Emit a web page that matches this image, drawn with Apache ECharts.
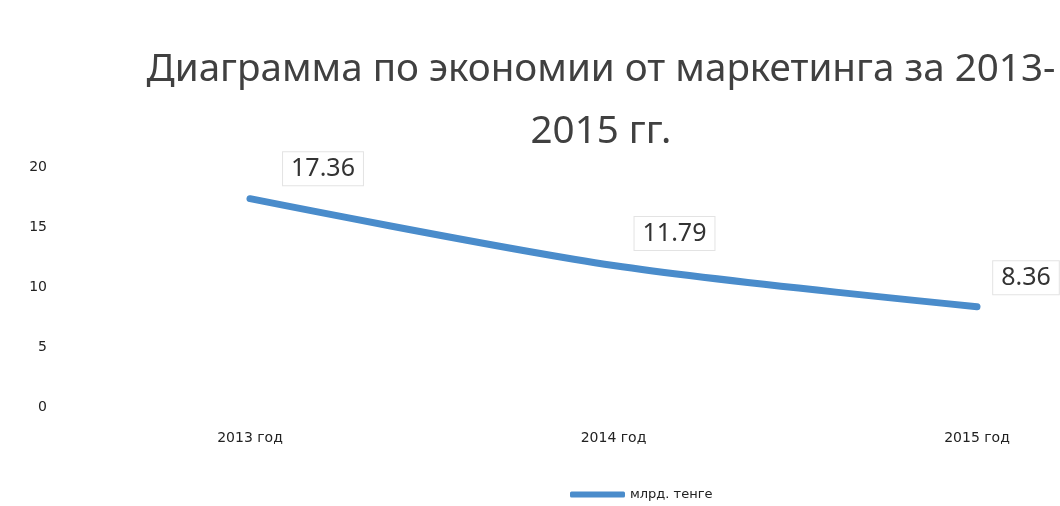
<!DOCTYPE html>
<html lang="ru" style="height: 100%">
<head>
    <meta charset="utf-8">
</head>
<body style="height: 100%; margin: 0; background: #fff">
<div id="main" style="width: 1060px; height: 506px"></div>
<script src="https://cdn.jsdelivr.net/npm/echarts@6/dist/echarts.min.js"></script>
<script type="text/javascript">
    // данные
    const years = ['2013 год', '2014 год', '2015 год'];
    const savings = [17.36, 11.79, 8.36];
    const yTicks = [0, 5, 10, 15, 20];
    const seriesName = 'млрд. тенге';

    // сдвиг подписей (вручную, как в исходной диаграмме)
    const labelShift = [[73, -8], [61, -10], [49, -7]];

    let chart = echarts.init(document.getElementById('main'));
    chart.setOption({
        animation: false,
        backgroundColor: '#fff',
        title: {
            text: 'Диаграмма по экономии от маркетинга за 2013-\n2015 гг.',
            left: 596,
            top: 34,
            textAlign: 'center',
            textStyle: {
                fontFamily: 'Noto Sans',
                fontSize: 38.6,
                fontWeight: 'normal',
                color: '#404040',
                lineHeight: 62
            }
        },
        legend: {
            data: [seriesName],
            left: 565,
            top: 483,
            itemWidth: 55,
            itemHeight: 6,
            itemGap: 2,
            icon: 'roundRect',
            textStyle: {
                fontFamily: 'DejaVu Sans',
                fontSize: 13,
                color: '#222'
            }
        },
        grid: {
            left: 250,
            right: 83,
            top: 167,
            bottom: 99
        },
        xAxis: {
            type: 'category',
            data: years,
            boundaryGap: false,
            axisLine: {show: false},
            axisTick: {show: false},
            axisLabel: {
                margin: 24,
                fontFamily: 'DejaVu Sans',
                fontSize: 14,
                color: '#222'
            }
        },
        yAxis: {
            type: 'value',
            min: yTicks[0],
            max: yTicks[yTicks.length - 1],
            interval: yTicks[1] - yTicks[0],
            splitLine: {show: false},
            axisLabel: {
                margin: 203,
                fontFamily: 'DejaVu Sans',
                fontSize: 14,
                color: '#222'
            }
        },
        series: [{
            name: seriesName,
            type: 'line',
            data: savings.map(function (v, i) {
                return {value: v, label: {offset: labelShift[i]}};
            }),
            smooth: 0.3,
            symbol: 'circle',
            symbolSize: 1,
            showSymbol: true,
            lineStyle: {width: 7, color: '#4a8ccb', cap: 'round'},
            itemStyle: {color: '#4a8ccb'},
            label: {
                show: true,
                position: 'top',
                fontFamily: 'Noto Sans',
                fontSize: 25,
                color: '#333',
                backgroundColor: '#fff',
                borderColor: '#e3e3e3',
                borderWidth: 1,
                padding: [4, 8, 4, 8],
                formatter: function (p) { return p.value.toFixed(2); }
            }
        }]
    });
</script>
</body>
</html>
